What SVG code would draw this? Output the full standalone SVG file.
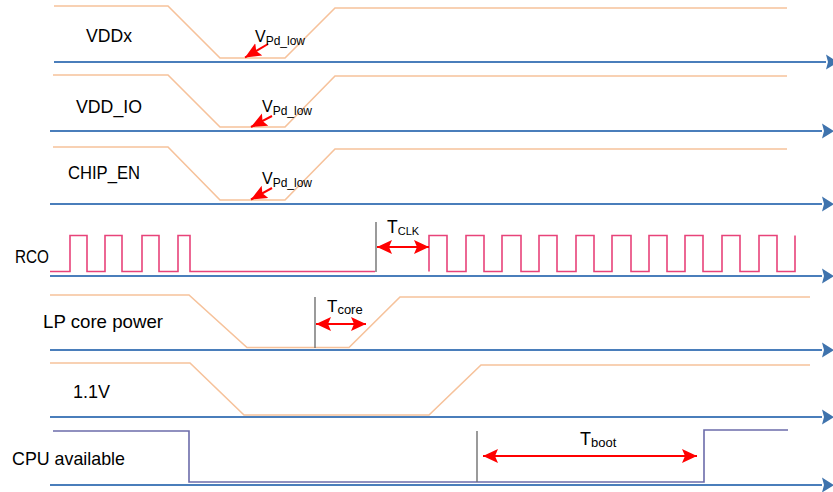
<svg xmlns="http://www.w3.org/2000/svg" width="833" height="492" viewBox="0 0 833 492">
<style>
.axis{stroke:#4a7ebb;stroke-width:2;fill:none}
.wave{stroke:#f6c29b;stroke-width:1.6;fill:none}
.clk{stroke:#e8437a;stroke-width:1.6;fill:none}
.cpu{stroke:#6c6caa;stroke-width:1.6;fill:none}
.mark{stroke:#707070;stroke-width:1.4}
.dim{stroke:#ff0000;stroke-width:2;fill:none}
.lbl{font-family:"Liberation Sans",Arial,sans-serif;font-size:18.5px;fill:#000}
.sym{font-family:"Liberation Sans",Arial,sans-serif;fill:#000}
</style>
<defs>
<marker id="axh" markerUnits="userSpaceOnUse" markerWidth="14" markerHeight="16" refX="0" refY="8" orient="auto">
<path d="M0,0.5 L12,8 L0,15.5 L2,8 Z" fill="#3f73ad"/>
</marker>
<marker id="rh" markerUnits="userSpaceOnUse" markerWidth="16" markerHeight="16" refX="15" refY="7" orient="auto-start-reverse">
<path d="M0,0 L15,7 L0,14 L3,7 Z" fill="#ff0000"/>
</marker>
<marker id="vh" markerUnits="userSpaceOnUse" markerWidth="17" markerHeight="16" refX="16" refY="7" orient="auto">
<path d="M0,0 L16,7 L0,14 L3,7 Z" fill="#ff0000"/>
</marker>
</defs>
<g id="connectors">
<line class="axis" x1="54" y1="62" x2="826" y2="62" marker-end="url(#axh)"/>
<line class="axis" x1="50" y1="131" x2="822" y2="131" marker-end="url(#axh)"/>
<line class="axis" x1="50" y1="204" x2="822" y2="204" marker-end="url(#axh)"/>
<line class="axis" x1="50" y1="276" x2="822" y2="276" marker-end="url(#axh)"/>
<line class="axis" x1="50" y1="350" x2="822" y2="350" marker-end="url(#axh)"/>
<line class="axis" x1="50" y1="417" x2="822" y2="417" marker-end="url(#axh)"/>
<line class="axis" x1="50" y1="485" x2="822" y2="485" marker-end="url(#axh)"/>
</g>
<g id="vddx">
<polyline class="wave" points="54,6 168,6 220,58 285,58 335,8 787,8"/>
<text class="lbl" x="86" y="42" textLength="46" lengthAdjust="spacingAndGlyphs">VDDx</text>
<line class="dim" x1="268" y1="44" x2="245" y2="57.5" marker-end="url(#vh)" stroke-width="1.6"/>
<text class="sym" x="255" y="42" font-size="16">V<tspan font-size="12" dy="3">Pd_low</tspan></text>
</g>
<g id="vdd_io">
<polyline class="wave" points="53,75 168,75 220,127 285,127 335,76 787,76"/>
<text class="lbl" x="76" y="113" textLength="66" lengthAdjust="spacingAndGlyphs">VDD_IO</text>
<line class="dim" x1="272" y1="116" x2="251" y2="127" marker-end="url(#vh)" stroke-width="1.6"/>
<text class="sym" x="262" y="112" font-size="16">V<tspan font-size="12" dy="3">Pd_low</tspan></text>
</g>
<g id="chip_en">
<polyline class="wave" points="53,147 168,147 220,200 285,200 335,149 787,149"/>
<text class="lbl" x="68" y="179" textLength="72" lengthAdjust="spacingAndGlyphs">CHIP_EN</text>
<line class="dim" x1="272" y1="188" x2="251" y2="199.5" marker-end="url(#vh)" stroke-width="1.6"/>
<text class="sym" x="262" y="184" font-size="16">V<tspan font-size="12" dy="3">Pd_low</tspan></text>
</g>
<g id="rco">
<polyline class="clk" points="50,271.5 70,271.5 70,235.5 87,235.5 87,271.5 105,271.5 105,235.5 122,235.5 122,271.5 142,271.5 142,235.5 159,235.5 159,271.5 178,271.5 178,235.5 190,235.5 190,271.5 375,271.5"/>
<polyline class="clk" points="429,271.5 429,235.5 447,235.5 447,271.5 466,271.5 466,235.5 484,235.5 484,271.5 502,271.5 502,235.5 521,235.5 521,271.5 539,271.5 539,235.5 557,235.5 557,271.5 576,271.5 576,235.5 594,235.5 594,271.5 612,271.5 612,235.5 631,235.5 631,271.5 649,271.5 649,235.5 667,235.5 667,271.5 685,271.5 685,235.5 703,235.5 703,271.5 722,271.5 722,235.5 740,235.5 740,271.5 759,271.5 759,235.5 777,235.5 777,271.5 795,271.5 795,235.5"/>
<text class="lbl" x="15" y="263" textLength="34" lengthAdjust="spacingAndGlyphs">RCO</text>
<line class="mark" x1="376" y1="222" x2="376" y2="272"/>
<line class="dim" x1="377" y1="247" x2="429" y2="247" marker-start="url(#rh)" marker-end="url(#rh)"/>
<text class="sym" x="387" y="233" font-size="17.5">T<tspan font-size="11" dy="1.5">CLK</tspan></text>
</g>
<g id="lp_core_power">
<polyline class="wave" points="50,295 189,295 247,347.5 349,347.5 400,297 810,297"/>
<text class="lbl" x="43" y="328" textLength="120" lengthAdjust="spacingAndGlyphs">LP core power</text>
<line class="mark" x1="315" y1="297" x2="315" y2="348" stroke="#8080b0"/>
<line class="dim" x1="316" y1="324" x2="366" y2="324" marker-start="url(#rh)" marker-end="url(#rh)"/>
<text class="sym" x="327" y="311.5" font-size="17">T<tspan font-size="13" dy="2">core</tspan></text>
</g>
<g id="v1_1">
<polyline class="wave" points="50,363 190,363 244,415 429,415 481,365 810,365"/>
<text class="lbl" x="73" y="398" textLength="37" lengthAdjust="spacingAndGlyphs">1.1V</text>
</g>
<g id="cpu_available">
<polyline class="cpu" points="53,431 189,431 189,482 704,482 704,430 788,430"/>
<text class="lbl" x="12" y="465" textLength="113" lengthAdjust="spacingAndGlyphs">CPU available</text>
<line class="mark" x1="477" y1="431" x2="477" y2="482"/>
<line class="dim" x1="483" y1="456" x2="697" y2="456" marker-start="url(#rh)" marker-end="url(#rh)"/>
<text class="sym" x="580" y="445" font-size="18">T<tspan font-size="13" dy="2">boot</tspan></text>
</g>
</svg>
